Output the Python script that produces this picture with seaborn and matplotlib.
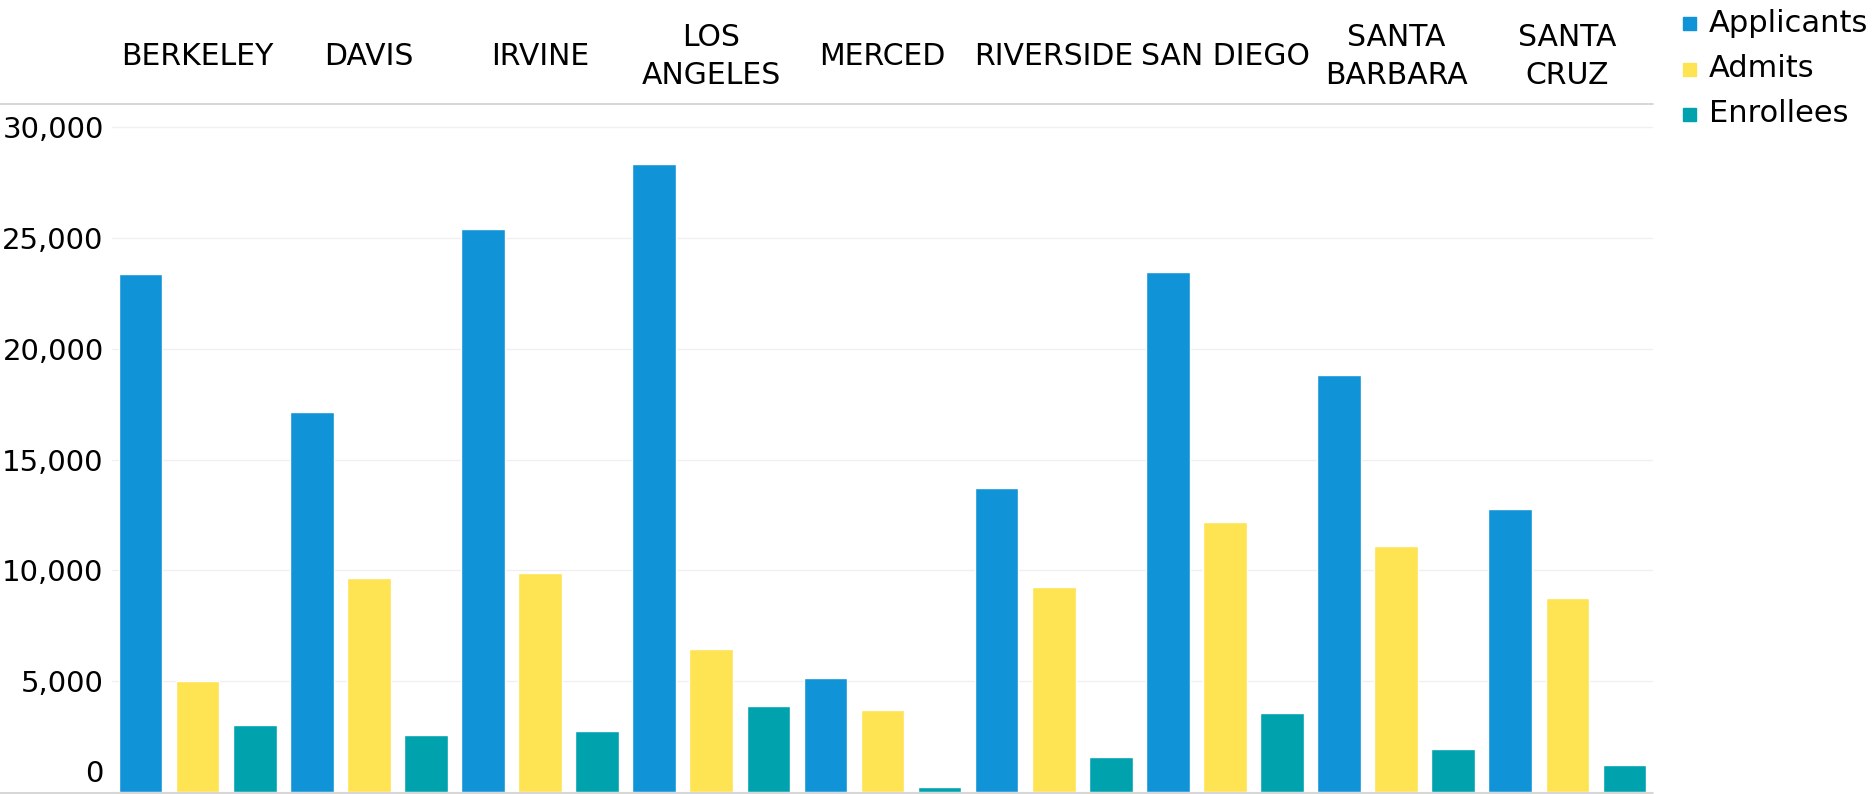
import pandas as pd
import matplotlib
matplotlib.use('Agg')
import matplotlib.pyplot as plt
import matplotlib.transforms as mtransforms
from matplotlib.lines import Line2D
from matplotlib.patches import Rectangle
from matplotlib.ticker import FuncFormatter
import seaborn as sns

# Data
campuses = ['BERKELEY', 'DAVIS', 'IRVINE', 'LOS\nANGELES', 'MERCED',
            'RIVERSIDE', 'SAN DIEGO', 'SANTA\nBARBARA', 'SANTA\nCRUZ']
metrics = ['Applicants', 'Admits', 'Enrollees']
applicants = [23370, 17160, 25420, 28330, 5150, 13710, 23480, 18830, 12790]
admits = [5020, 9660, 9880, 6450, 3700, 9230, 12200, 11120, 8740]
enrollees = [3020, 2590, 2750, 3880, 220, 1570, 3570, 1940, 1240]
colors = ['#1193D7', '#FEE352', '#00A2AD']

rows = []
for i, c in enumerate(campuses):
    for j, vals in enumerate([applicants, admits, enrollees]):
        rows.append({'campus': c, 'metric': metrics[j], 'slot': i * 3 + j, 'value': vals[i]})
df = pd.DataFrame(rows)

sns.set_theme(style='white')
plt.rcParams['font.family'] = ['DejaVu Sans']

W, H = 1874, 794
fig = plt.figure(figsize=(W / 100, H / 100), dpi=100)
ax = fig.add_axes([112 / W, 1 - 792 / H, (1653 - 112) / W, (792 - 104) / H])

sns.barplot(data=df, x='slot', y='value', hue='metric', hue_order=metrics,
            palette=colors, dodge=False, width=0.765, native_scale=True,
            saturation=1, legend=False, ax=ax, zorder=3)

ax.set_xlim(-0.5, 26.5)
ax.set_ylim(0, 31050)
ax.set_yticks([0, 5000, 10000, 15000, 20000, 25000, 30000])
ax.yaxis.set_major_formatter(FuncFormatter(lambda v, p: f'{int(v):,}'))
ax.set_xticks([])
ax.set_xlabel('')
ax.set_ylabel('')
ax.tick_params(axis='y', length=0, pad=6, labelsize=21, labelcolor='black')
ax.yaxis.grid(True, color='#f0f0f0', lw=1)
ax.set_axisbelow(True)
for s in ax.spines.values():
    s.set_visible(False)

# shift the "0" label up so it sits inside the pane
fig.canvas.draw()
zero = ax.get_yticklabels()[0]
zero.set_va('bottom')
zero.set_transform(zero.get_transform() + mtransforms.ScaledTranslation(0, 3 / 72, fig.dpi_scale_trans))

# header lines
for y in (104, 792.5):
    fig.add_artist(Line2D([0, 1653 / W], [1 - y / H, 1 - y / H], color='#d0d0d0', lw=1.2,
                          transform=fig.transFigure))

# campus headers
trans = mtransforms.blended_transform_factory(ax.transData, fig.transFigure)
for i, c in enumerate(campuses):
    ax.text(i * 3 + 1, 1 - 56.5 / H, c, transform=trans, ha='center', va='center',
            fontsize=21.5, color='black', linespacing=1.42, clip_on=False)

# legend
for j, m in enumerate(metrics):
    yc = [23, 68.5, 114][j]
    fig.add_artist(Rectangle((1683 / W, 1 - (yc + 7) / H), 13 / W, 13 / H,
                             color=colors[j], transform=fig.transFigure))
    fig.text(1709 / W, 1 - yc / H, m, ha='left', va='center', fontsize=22, color='black')

fig.savefig('out.png', dpi=100)
